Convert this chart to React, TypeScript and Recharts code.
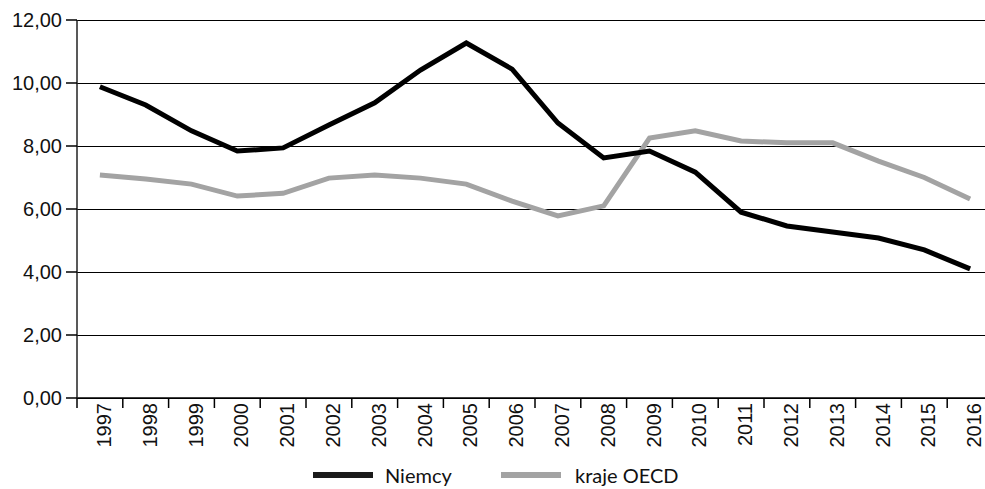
import { LineChart, Line, XAxis, YAxis, CartesianGrid, Legend } from 'recharts';

const YEARS = [1997, 1998, 1999, 2000, 2001, 2002, 2003, 2004, 2005, 2006, 2007, 2008, 2009, 2010, 2011, 2012, 2013, 2014, 2015, 2016];
const NIEMCY = [9.88, 9.3, 8.48, 7.84, 7.94, 8.67, 9.37, 10.41, 11.27, 10.44, 8.73, 7.62, 7.84, 7.17, 5.9, 5.46, 5.27, 5.08, 4.7, 4.1];
const OECD = [7.08, 6.95, 6.79, 6.41, 6.5, 6.98, 7.08, 6.98, 6.79, 6.25, 5.78, 6.1, 8.25, 8.48, 8.16, 8.1, 8.1, 7.52, 7.0, 6.32];
const Y_TICKS = [0, 2, 4, 6, 8, 10, 12];

const data = YEARS.map((year, i) => ({ year, niemcy: NIEMCY[i], oecd: OECD[i] }));

const CHART_W = 993;
const Y_AXIS_W = 77;
const STEP = (CHART_W - Y_AXIS_W) / YEARS.length;

const tickFont = '"Liberation Sans", Arial, sans-serif';

const fmt = (v: number) => v.toFixed(2).replace('.', ',');

const YearTick = (props: any) => {
    const { x, y, payload } = props;
    return (
        <g>
            <line x1={x - STEP / 2} x2={x - STEP / 2} y1={y} y2={y + 10} stroke="#000" strokeWidth={1.5} />
            <text
                x={x + 4}
                y={y + 5}
                transform={`rotate(-90, ${x + 4}, ${y + 5})`}
                textAnchor="end"
                dominantBaseline="central"
                fontSize={20}
                fontFamily={tickFont}
                fill="#111"
            >
                {payload.value}
            </text>
        </g>
    );
};

const LegendBox = () => (
    <div style={{ position: 'relative', height: 28, fontFamily: 'Lato, sans-serif', fontSize: 20, color: '#111' }}>
        <div style={{ position: 'absolute', left: 313, top: 11, width: 60, height: 6, background: '#1a1a1a' }} />
        <span style={{ position: 'absolute', left: 385, top: 0, lineHeight: '28px' }}>Niemcy</span>
        <div style={{ position: 'absolute', left: 501, top: 11, width: 60, height: 6, background: '#a3a3a3' }} />
        <span style={{ position: 'absolute', left: 575, top: 0, lineHeight: '28px' }}>kraje OECD</span>
    </div>
);

const App = () => {
    return (
        <div style={{ position: 'absolute', left: 0, top: 0, width: 985, height: 489, overflow: 'hidden', background: '#fff' }}>
            <LineChart width={CHART_W} height={489} data={data} margin={{ top: 20, right: 0, left: 0, bottom: 0 }}>
                <CartesianGrid vertical={false} stroke="#000" strokeWidth={1} shapeRendering="crispEdges" />
                <XAxis
                    dataKey="year"
                    type="number"
                    domain={[1996.5, 2016.5]}
                    ticks={YEARS}
                    interval={0}
                    height={63}
                    tickSize={0}
                    tickMargin={0}
                    tickLine={false}
                    axisLine={{ stroke: '#000', strokeWidth: 1.5 }}
                    tick={<YearTick />}
                />
                <YAxis
                    domain={[0, 12]}
                    ticks={Y_TICKS}
                    width={Y_AXIS_W}
                    tickSize={11}
                    tickMargin={4}
                    tickFormatter={fmt}
                    axisLine={{ stroke: '#222', strokeWidth: 1.5 }}
                    tickLine={{ stroke: '#000', strokeWidth: 1.5 }}
                    tick={{ fill: '#111', fontSize: 20, fontFamily: tickFont }}
                />
                <Legend verticalAlign="bottom" content={<LegendBox />} wrapperStyle={{ left: 0, width: CHART_W, height: 28 }} />
                <Line type="linear" dataKey="oecd" name="kraje OECD" stroke="#a3a3a3" strokeWidth={5} dot={false} isAnimationActive={false} />
                <Line type="linear" dataKey="niemcy" name="Niemcy" stroke="#000" strokeWidth={5} dot={false} isAnimationActive={false} />
            </LineChart>
        </div>
    );
};

export default App;
